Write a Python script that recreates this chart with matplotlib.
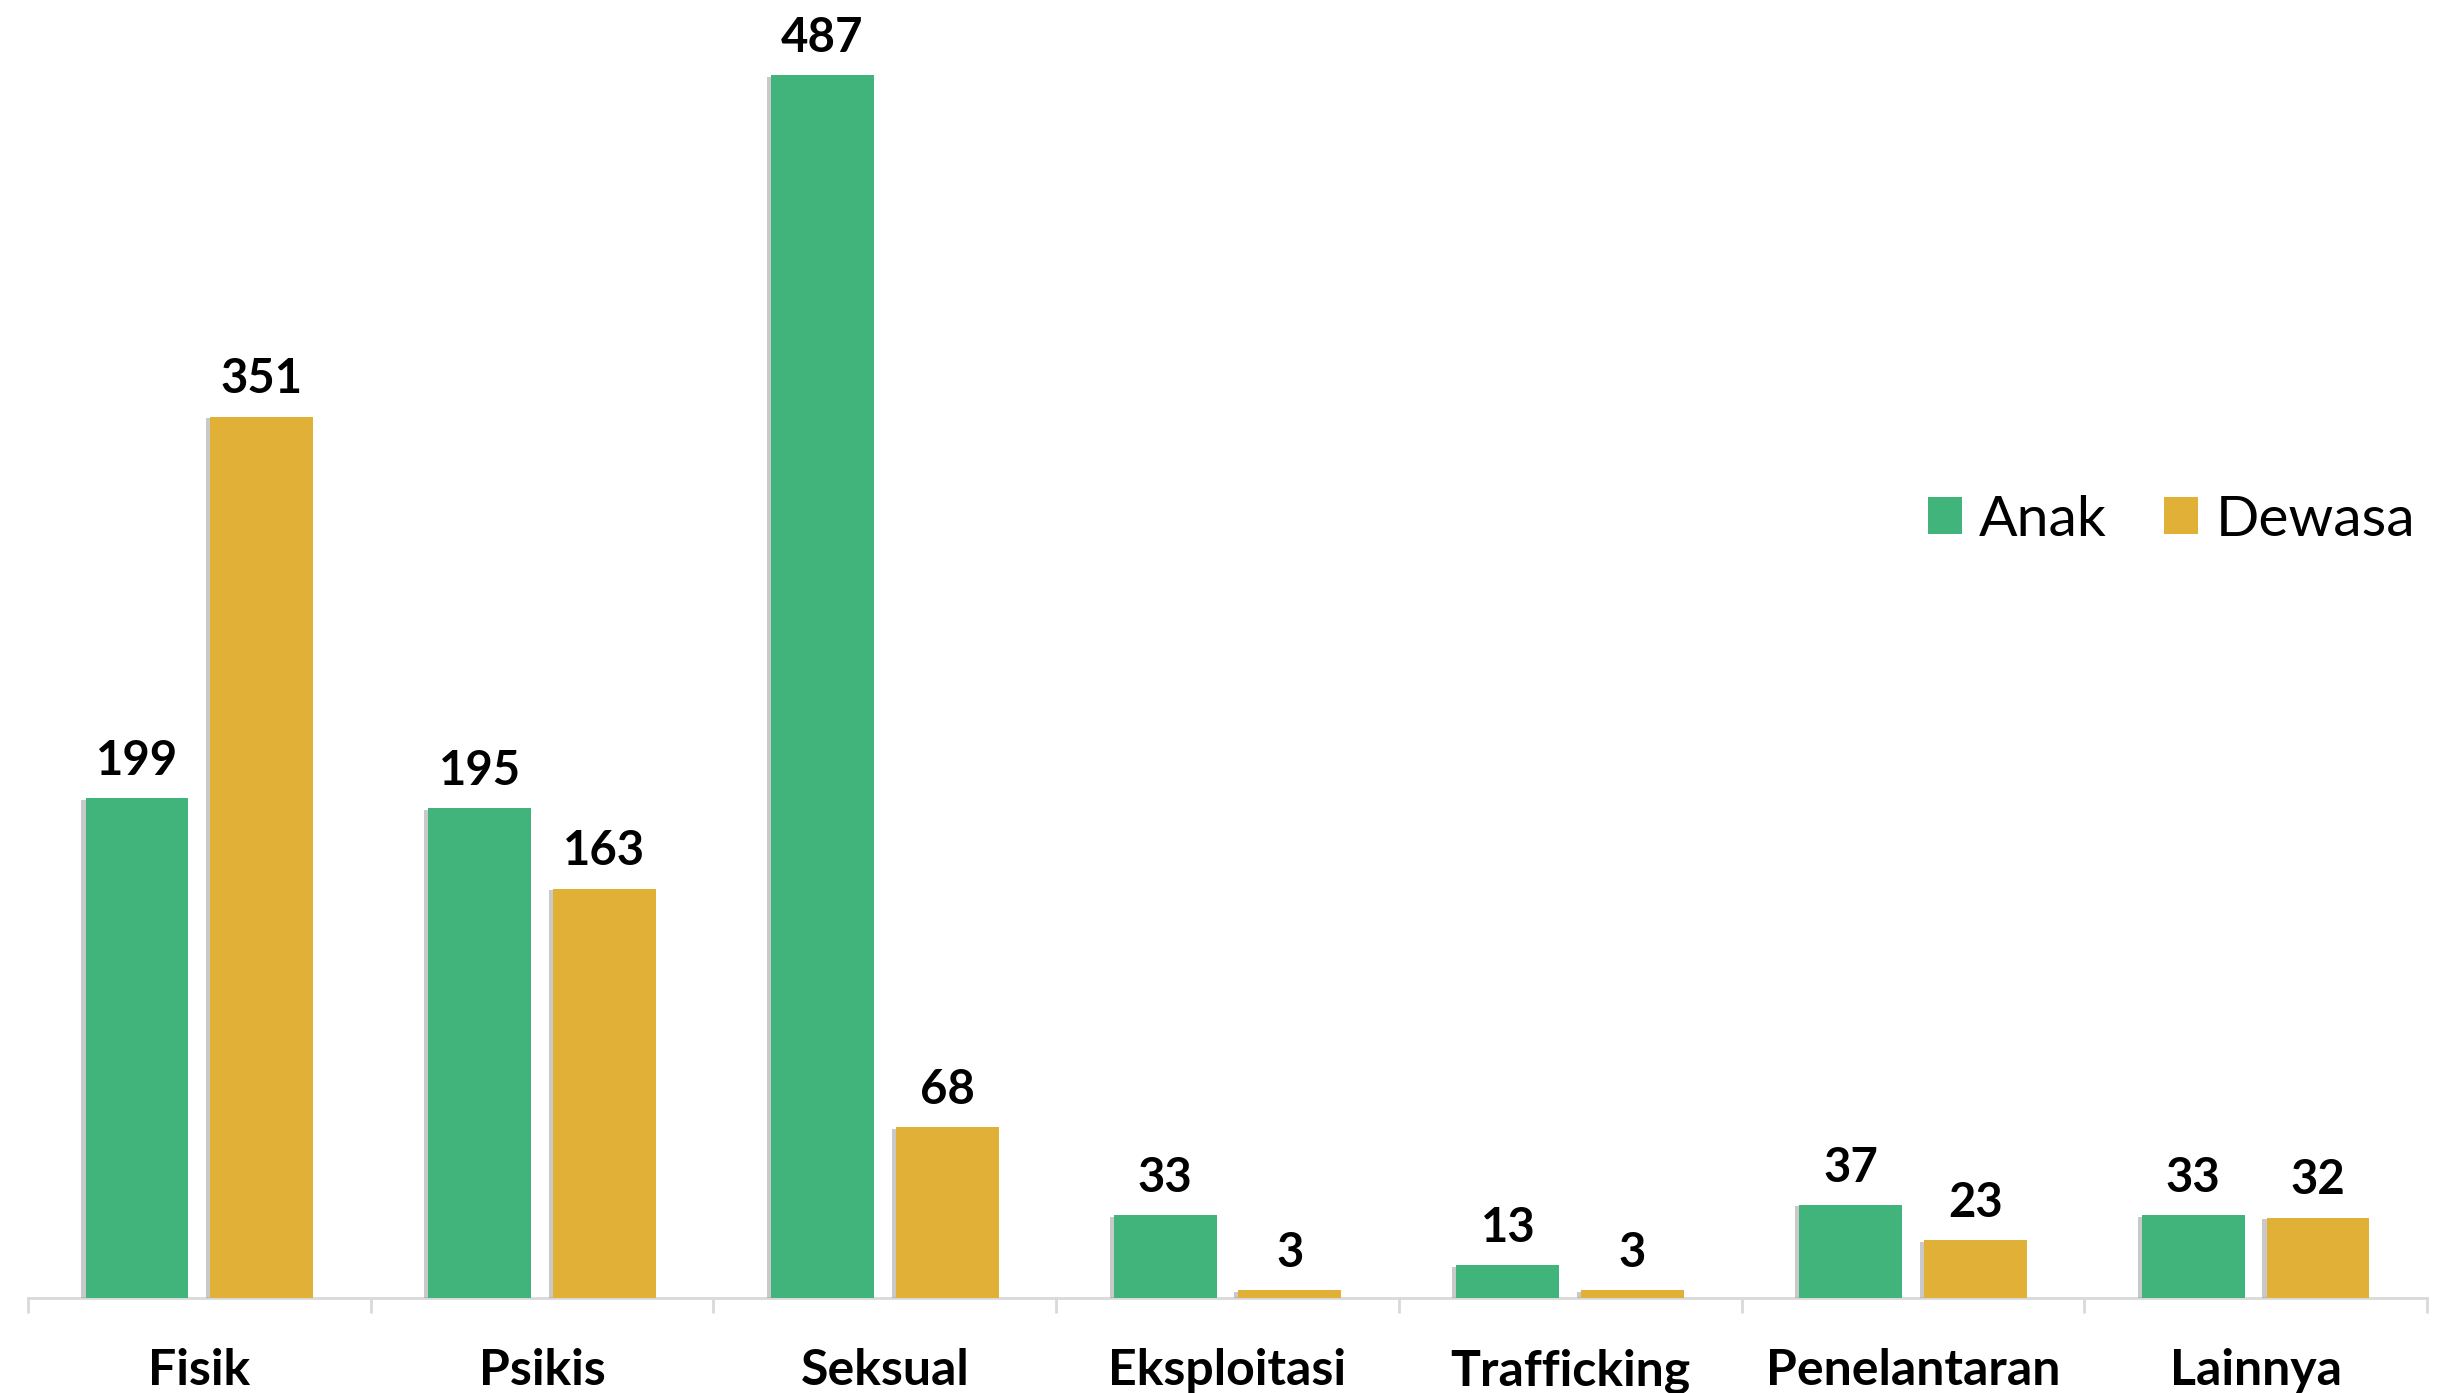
import matplotlib.pyplot as plt
import matplotlib.patheffects as pe
import numpy as np

# data
categories = ['Fisik', 'Psikis', 'Seksual', 'Eksploitasi', 'Trafficking', 'Penelantaran', 'Lainnya']
anak = [199, 195, 487, 33, 13, 37, 33]
dewasa = [351, 163, 68, 3, 3, 23, 32]

green = '#41B47B'
gold = '#E0B037'

plt.rcParams['font.family'] = ['Lato', 'DejaVu Sans']

fig = plt.figure(figsize=(24.43, 13.93), dpi=100, facecolor='white')
ax = fig.add_axes([28 / 2443, 95 / 1393, 2399 / 2443, 1 - 95 / 1393])
ax.set_facecolor('none')

x = np.arange(len(categories))
w = 0.30
off = 0.182
shadow = [pe.SimplePatchShadow(offset=(-3, -1), shadow_rgbFace='#888888', alpha=0.45), pe.Normal()]

b1 = ax.bar(x - off, anak, w, color=green, label='Anak', path_effects=shadow, zorder=3)
b2 = ax.bar(x + off, dewasa, w, color=gold, label='Dewasa', path_effects=shadow, zorder=3)

for bars in (b1, b2):
    for r in bars:
        ax.annotate(f'{int(r.get_height())}', (r.get_x() + r.get_width() / 2, r.get_height()),
                    xytext=(0, 11), textcoords='offset points', ha='center', va='bottom',
                    fontsize=34, fontweight='bold', color='black')

ax.set_xlim(-0.5, len(categories) - 0.5)
ax.set_ylim(0, 517)

ax.set_yticks([])
for s in ['top', 'right', 'left']:
    ax.spines[s].set_visible(False)
ax.spines['bottom'].set_color('#D9D9D9')
ax.spines['bottom'].set_linewidth(2)

ax.set_xticks(x)
ax.set_xticklabels(categories, fontsize=36, fontweight='bold', va='top')
ax.tick_params(axis='x', which='major', length=0, pad=36)
ax.set_xticks(np.arange(-0.5, len(categories)), minor=True)
ax.tick_params(axis='x', which='minor', length=11, width=2, color='#D9D9D9')

leg = fig.legend(handles=[b1, b2], labels=['Anak', 'Dewasa'], loc='center left',
                 bbox_to_anchor=(1928 / 2443, 1 - 520 / 1393), ncol=2, frameon=False,
                 fontsize=41, handlelength=0.6, handleheight=0.6, handletextpad=0.3,
                 columnspacing=1.0, borderaxespad=0, borderpad=0)
for h in leg.legend_handles:
    h.set_path_effects([])

fig.savefig('out.png', dpi=100, facecolor=fig.get_facecolor())
